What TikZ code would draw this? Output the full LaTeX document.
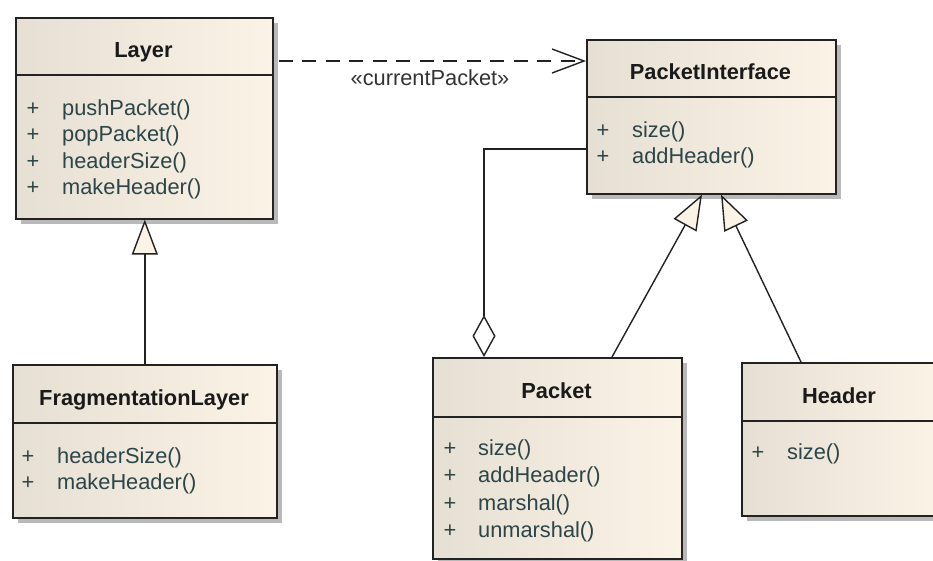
\documentclass[tikz,border=0pt]{standalone}
\usepackage{fontspec}
\setmainfont{Liberation Sans}
\usetikzlibrary{arrows.meta,calc,shadows}

\definecolor{edge}{HTML}{222222}
\definecolor{boxL}{HTML}{E6DFD3}
\definecolor{boxR}{HTML}{FBF3E6}
\definecolor{optext}{HTML}{2B4548}
\definecolor{titlecol}{HTML}{1A1A1A}
\definecolor{shadecol}{HTML}{B9B9B9}
\definecolor{labelcol}{HTML}{333333}

\tikzset{
  classbox/.style={draw=edge, line width=1.6pt, left color=boxL, right color=boxR,
    anchor=north west, inner sep=0pt,
    drop shadow={shadow xshift=5pt, shadow yshift=-5pt, fill=shadecol, opacity=1}},
  divider/.style={draw=edge, line width=1.5pt},
  title/.style={font=\bfseries\fontsize{21.8}{26}\selectfont, text=titlecol, anchor=base, inner sep=0pt},
  vis/.style={font=\fontsize{21.8}{26}\selectfont, text=optext, anchor=base, inner sep=0pt},
  op/.style={font=\fontsize{21.8}{26}\selectfont, text=optext, anchor=base west, inner sep=0pt},
  conn/.style={draw=edge, line width=1.4pt},
  gen/.style={conn, -{Triangle[length=35pt,width=26pt,fill=boxR]}},
  agg/.style={conn, -{Diamond[length=42pt,width=23pt,fill=white]}},
  dep/.style={conn, dash pattern=on 14pt off 9.5pt, -{Straight Barb[length=32pt,width=24pt]}},
}

\begin{document}
\begin{tikzpicture}[x=1pt,y=-1pt]
\useasboundingbox (0,0) rectangle (933,560);
\clip (0,0) rectangle (933,560);
\fill[white] (0,0) rectangle (933,560);

% ---------- Layer ----------
\node[classbox, minimum width=257pt, minimum height=201pt] (layer) at (15,17) {};
\draw[divider] ($(layer.north west)+(0,58)$) -- ($(layer.north east)+(0,58)$);
\node[title] (layerT) at (143.5,57.5) {Layer};
\node[vis] (lv1) at (33,115) {+};
\node[op]  (lo1) at (62,115) {pushPacket()};
\node[vis] (lv2) at (33,141.5) {+};
\node[op]  (lo2) at (62,141.5) {popPacket()};
\node[vis] (lv3) at (33,168) {+};
\node[op]  (lo3) at (62,168) {headerSize()};
\node[vis] (lv4) at (33,194.5) {+};
\node[op]  (lo4) at (62,194.5) {makeHeader()};

% ---------- PacketInterface ----------
\node[classbox, minimum width=249pt, minimum height=154pt] (pi) at (586,39) {};
\draw[divider] ($(pi.north west)+(0,58)$) -- ($(pi.north east)+(0,58)$);
\node[title] (piT) at (710.5,79.5) {PacketInterface};
\node[vis] (pv1) at (603,137) {+};
\node[op]  (po1) at (632,137) {size()};
\node[vis] (pv2) at (603,163.5) {+};
\node[op]  (po2) at (632,163.5) {addHeader()};

% ---------- FragmentationLayer ----------
\node[classbox, minimum width=264pt, minimum height=153pt] (frag) at (12,364) {};
\draw[divider] ($(frag.north west)+(0,59)$) -- ($(frag.north east)+(0,59)$);
\node[title] (fragT) at (144,405) {FragmentationLayer};
\node[vis] (fv1) at (28,463) {+};
\node[op]  (fo1) at (57,463) {headerSize()};
\node[vis] (fv2) at (28,489.5) {+};
\node[op]  (fo2) at (57,489.5) {makeHeader()};

% ---------- Packet ----------
\node[classbox, minimum width=249pt, minimum height=201pt] (packet) at (432,357) {};
\draw[divider] ($(packet.north west)+(0,60)$) -- ($(packet.north east)+(0,60)$);
\node[title] (packetT) at (556.5,398.5) {Packet};
\node[vis] (kv1) at (450,455) {+};
\node[op]  (ko1) at (478,455) {size()};
\node[vis] (kv2) at (450,482.5) {+};
\node[op]  (ko2) at (478,482.5) {addHeader()};
\node[vis] (kv3) at (450,510) {+};
\node[op]  (ko3) at (478,510) {marshal()};
\node[vis] (kv4) at (450,537.5) {+};
\node[op]  (ko4) at (478,537.5) {unmarshal()};

% ---------- Header ----------
\node[classbox, minimum width=196pt, minimum height=153pt] (header) at (741,362) {};
\draw[divider] ($(header.north west)+(0,59)$) -- ($(header.north east)+(0,59)$);
\node[title] (headerT) at (839,403) {Header};
\node[vis] (hv1) at (758,459) {+};
\node[op]  (ho1) at (787,459) {size()};

% ---------- Relations ----------
\coordinate (depStart) at ($(layer.north east)+(5,44)$);
\draw[dep] (depStart) -- (pi.west |- depStart);
\node[font=\fontsize{21.8}{26}\selectfont, text=labelcol, anchor=base, inner sep=0pt]
  (depLabel) at (430,85) {«currentPacket»};

\draw[gen] (frag.north) -- (frag.north |- layer.south);
\draw[gen] ($(packet.north west)+(180,0)$) -- ($(pi.south west)+(116,0)$);
\draw[gen] ($(header.north west)+(60,0)$) -- ($(pi.south west)+(135,0)$);

\draw[agg] ($(pi.north west)+(0,110)$) -| ($(packet.north west)+(52,0)$);
\end{tikzpicture}
\end{document}
